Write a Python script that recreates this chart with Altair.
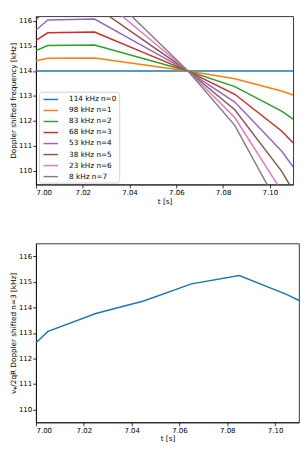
import altair as alt
import pandas as pd

# time samples [s]
t = [7.000, 7.005, 7.025, 7.045, 7.065, 7.085, 7.105, 7.110]

labels = ["114 kHz n=0", "98 kHz n=1", "83 kHz n=2", "68 kHz n=3",
          "53 kHz n=4", "38 kHz n=5", "23 kHz n=6", "8 kHz n=7"]
colors = ["#1f77b4", "#ff7f0e", "#2ca02c", "#d62728",
          "#9467bd", "#8c564b", "#e377c2", "#7f7f7f"]

# Doppler shifted frequency [kHz] per mode
f_n0 = [114.00, 114.00, 114.00, 114.00, 114.00, 114.00, 114.00, 114.00]
f_n1 = [114.41, 114.51, 114.52, 114.26, 114.00, 113.69, 113.20, 113.04]
f_n2 = [114.82, 115.02, 115.04, 114.52, 114.00, 113.38, 112.40, 112.08]
f_n3 = [115.23, 115.53, 115.56, 114.78, 114.00, 113.07, 111.60, 111.12]
f_n4 = [115.64, 116.04, 116.08, 115.04, 114.00, 112.76, 110.80, 110.16]
f_n5 = [116.05, 116.55, 116.60, 115.30, 114.00, 112.45, 110.00, 109.20]
f_n6 = [116.46, 117.06, 117.12, 115.56, 114.00, 112.14, 109.20, 108.24]
f_n7 = [116.87, 117.57, 117.64, 115.82, 114.00, 111.83, 108.40, 107.28]
series = [f_n0, f_n1, f_n2, f_n3, f_n4, f_n5, f_n6, f_n7]

# v_phi/2qR Doppler shifted n=3 [kHz]
v_n3 = [112.62, 113.06, 113.76, 114.25, 114.92, 115.25, 114.50, 114.27]

x_ticks = [7.00, 7.02, 7.04, 7.06, 7.08, 7.10]
y_ticks = [110, 111, 112, 113, 114, 115, 116]

rows = []
for k, (lab, vals) in enumerate(zip(labels, series)):
    for ti, v in zip(t, vals):
        rows.append({"t": ti, "f": v, "series": lab, "k": k})
df = pd.DataFrame(rows)
df2 = pd.DataFrame({"t": t, "v": v_n3})

xscale = alt.Scale(domain=[7.0, 7.11], nice=False, zero=False)

top = alt.Chart(df).mark_line(clip=True, strokeWidth=1.5).encode(
    x=alt.X("t:Q", scale=xscale,
            axis=alt.Axis(values=x_ticks, format=".2f", title="t [s]")),
    y=alt.Y("f:Q", scale=alt.Scale(domain=[109.46, 116.19], nice=False, zero=False),
            axis=alt.Axis(values=y_ticks, format="d",
                          title="Doppler shifted frequency [kHz]")),
    color=alt.Color("series:N",
                    scale=alt.Scale(domain=labels, range=colors),
                    legend=alt.Legend(orient="none", legendX=3, legendY=78,
                                      title=None, symbolType="M-1.5,0H1.5",
                                      symbolSize=100, symbolStrokeWidth=1.5,
                                      symbolOffset=4.2,
                                      labelFontSize=7.5, labelColor="black",
                                      fillColor="white", strokeColor="#d0d0d0",
                                      cornerRadius=3, padding=2, rowPadding=1.4,
                                      labelOffset=13)),
    order=alt.Order("k:Q"),
).properties(width=266, height=174)

bot = alt.Chart(df2).mark_line(clip=True, color="#1f77b4", strokeWidth=1.5).encode(
    x=alt.X("t:Q", scale=xscale,
            axis=alt.Axis(values=x_ticks, format=".2f", title="t [s]")),
    y=alt.Y("v:Q", scale=alt.Scale(domain=[109.5, 116.5], nice=False, zero=False),
            axis=alt.Axis(values=y_ticks, format="d",
                          title="vᵩ/2qR Doppler shifted n=3 [kHz]")),
).properties(width=272, height=185)

chart = alt.vconcat(top, bot, spacing=38).properties(
    padding={"left": 0, "top": 0, "right": 0, "bottom": 0}
).configure(font="DejaVu Sans").configure_view(
    stroke="black", strokeWidth=0.8
).configure_axis(
    grid=False, domainColor="black", domainWidth=0.8, tickColor="black",
    tickWidth=0.8, tickSize=3.5, labelFontSize=7.2, labelColor="black",
    labelPadding=1, titleFontSize=7.5, titleFontWeight="normal",
    titleColor="black", titlePadding=1.5
)

chart.save("out.html", embed_options={"renderer": "svg", "actions": False})
